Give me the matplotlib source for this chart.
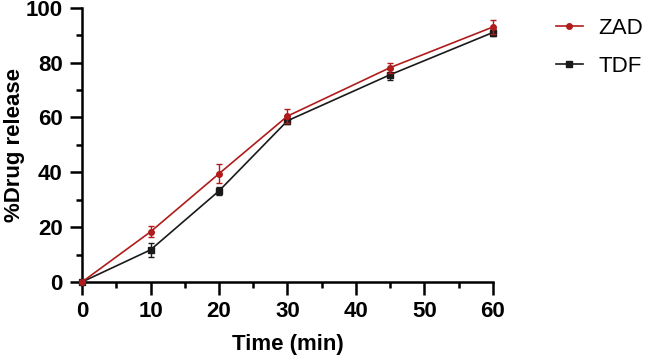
import matplotlib.pyplot as plt
from matplotlib.ticker import MultipleLocator
from matplotlib.lines import Line2D

plt.rcParams['font.family'] = ['Liberation Sans', 'DejaVu Sans']

time = [0, 10, 20, 30, 45, 60]
zad = [0, 18.3, 39.5, 60.5, 78.2, 93.0]
zad_err = [0, 2.0, 3.5, 2.5, 1.8, 2.5]
tdf = [0, 11.7, 33.2, 58.8, 75.6, 91.0]
tdf_err = [0, 2.5, 1.5, 1.0, 2.0, 1.2]

red = '#b01c1c'
black = '#1a1a1a'

fig = plt.figure(figsize=(6.46, 3.56), dpi=100)
ax = fig.add_axes([0.127, 0.208, 0.636, 0.77])

ax.errorbar(time, tdf, yerr=tdf_err, color=black, marker='s', markersize=4,
            linewidth=1.2, capsize=2.5, elinewidth=1.0, zorder=3, clip_on=False)
ax.errorbar(time, zad, yerr=zad_err, color=red, marker='o', markersize=4,
            linewidth=1.2, capsize=2.5, elinewidth=1.0, zorder=4, clip_on=False)

ax.set_xlim(0, 60)
ax.set_ylim(0, 100)
ax.xaxis.set_major_locator(MultipleLocator(10))
ax.xaxis.set_minor_locator(MultipleLocator(5))
ax.yaxis.set_major_locator(MultipleLocator(20))
ax.yaxis.set_minor_locator(MultipleLocator(10))

for s in ['top', 'right']:
    ax.spines[s].set_visible(False)
for s in ['left', 'bottom']:
    ax.spines[s].set_linewidth(1.8)
ax.tick_params(which='major', length=9, width=1.8, labelsize=16, pad=5, direction='out')
ax.tick_params(which='minor', length=4, width=1.8, direction='out')
for lab in ax.get_xticklabels() + ax.get_yticklabels():
    lab.set_fontweight('bold')

ax.set_xlabel('Time (min)', fontsize=16, fontweight='bold', labelpad=8)
ax.set_ylabel('%Drug release', fontsize=16, fontweight='bold')
ax.yaxis.set_label_coords(-0.14, 0.5)

handles = [Line2D([], [], color=red, marker='o', markersize=4, linewidth=1.2),
           Line2D([], [], color=black, marker='s', markersize=4, linewidth=1.2)]
ax.legend(handles, ['ZAD', 'TDF'], loc='upper left', bbox_to_anchor=(1.105, 1.035),
          frameon=False, fontsize=16, handlelength=1.2, handletextpad=0.7,
          labelspacing=0.75)

fig.savefig('out.png', dpi=100)
